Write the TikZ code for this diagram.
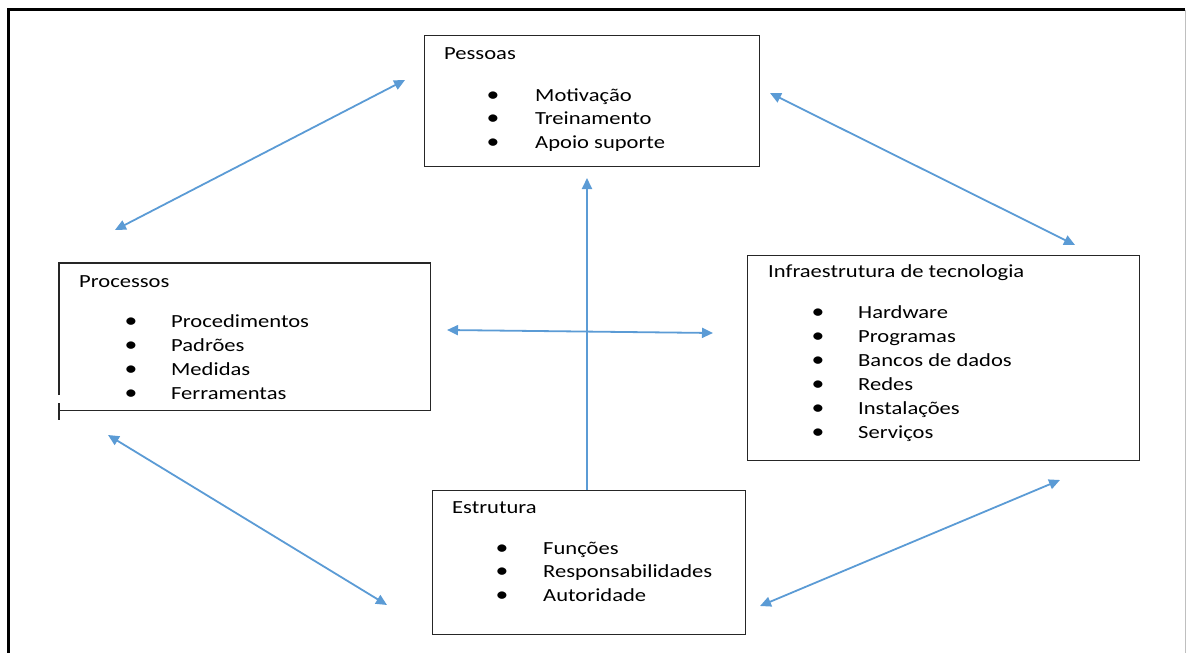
\documentclass[tikz,border=0pt]{standalone}
\usepackage{fontspec}
\setmainfont{Carlito}[FakeStretch=1.22]
\usetikzlibrary{arrows.meta}
\definecolor{linkblue}{HTML}{5B9BD5}
\tikzset{
  boxline/.style={draw=black!85, line width=1.3pt},
  box/.style={boxline, inner sep=0pt, anchor=north west},
  area/.style={inner sep=0pt, anchor=north west},
  txt/.style={anchor=base west, inner sep=0pt, font=\fontsize{18.5}{22}\selectfont, text=black},
  dot/.style={anchor=base, inner sep=0pt, font=\fontsize{21}{22}\selectfont, text=black},
  tip/.tip={Triangle[length=11pt,width=10pt]},
  link/.style={draw=linkblue, line width=1.8pt, tip-tip},
  onelink/.style={draw=linkblue, line width=1.8pt, -tip},
}
\begin{document}
\begin{tikzpicture}[x=1pt,y=-1pt]
\useasboundingbox (0,0) rectangle (1186,653);

% outer frame
\draw[black, line width=2.8pt] (8.7,653) -- (8.7,9.5) -- (1185,9.5);
\draw[black!25, line width=0.8pt] (1185,9.5) -- (1185,653);

% boxes
\node[box, minimum width=335pt, minimum height=131pt] (pes) at (424,35) {};
\node[area, minimum width=371pt, minimum height=147pt] (pro) at (59,263) {};
\node[box, minimum width=392pt, minimum height=205pt] (inf) at (747,255) {};
\node[box, minimum width=313pt, minimum height=144pt] (est) at (432,490) {};

% Processos box: left side broken near the bottom corner
\draw[boxline] ([yshift=-132pt]pro.north west) -- (pro.north west) -- (pro.north east)
  -- (pro.south east) -- (pro.south west);
\draw[boxline] ([yshift=7pt]pro.south west) -- ([yshift=-10pt]pro.south west);

% Pessoas
\node[txt] (pesT) at (444,59) {Pessoas};
\foreach \t/\yy [count=\i] in {Motivação/101, Treinamento/124.5, Apoio suporte/148} {
  \node[dot] (pesB\i) at (493,\yy) {\textbullet};
  \node[txt] (pes\i) at (535,\yy) {\t};
}

% Processos
\node[txt] (proT) at (79,287) {Processos};
\foreach \t/\yy [count=\i] in {Procedimentos/327, Padrões/351, Medidas/375, Ferramentas/399} {
  \node[dot] (proB\i) at (131,\yy) {\textbullet};
  \node[txt] (pro\i) at (171,\yy) {\t};
}

% Infraestrutura de tecnologia
\node[txt] (infT) at (768,277) {Infraestrutura de tecnologia};
\foreach \t/\yy [count=\i] in {Hardware/318, Programas/342, Bancos de dados/366, Redes/390, Instalações/414, Serviços/438} {
  \node[dot] (infB\i) at (818,\yy) {\textbullet};
  \node[txt] (inf\i) at (858,\yy) {\t};
}

% Estrutura
\node[txt] (estT) at (452,513) {Estrutura};
\foreach \t/\yy [count=\i] in {Funções/554, Responsabilidades/577.5, Autoridade/601} {
  \node[dot] (estB\i) at (502,\yy) {\textbullet};
  \node[txt] (est\i) at (543,\yy) {\t};
}

% connector ends
\coordinate (pesL) at (405,80);   \coordinate (proU) at (115,230);
\coordinate (pesR) at (770,93);   \coordinate (infU) at (1075,245);
\coordinate (proD) at (108,435);  \coordinate (estL) at (387,605);
\coordinate (estR) at (760,606);  \coordinate (infD) at (1060,480);
\coordinate (midL) at (447,330);  \coordinate (midR) at (713,333);
\coordinate (midU) at (587,178);  \coordinate (estU) at (587,490);

% connectors
\draw[link] (pesL) -- (proU);
\draw[link] (pesR) -- (infU);
\draw[link] (proD) -- (estL);
\draw[link] (estR) -- (infD);
\draw[link] (midL) -- (midR);
\draw[onelink] (estU) -- (midU);
\end{tikzpicture}
\end{document}
